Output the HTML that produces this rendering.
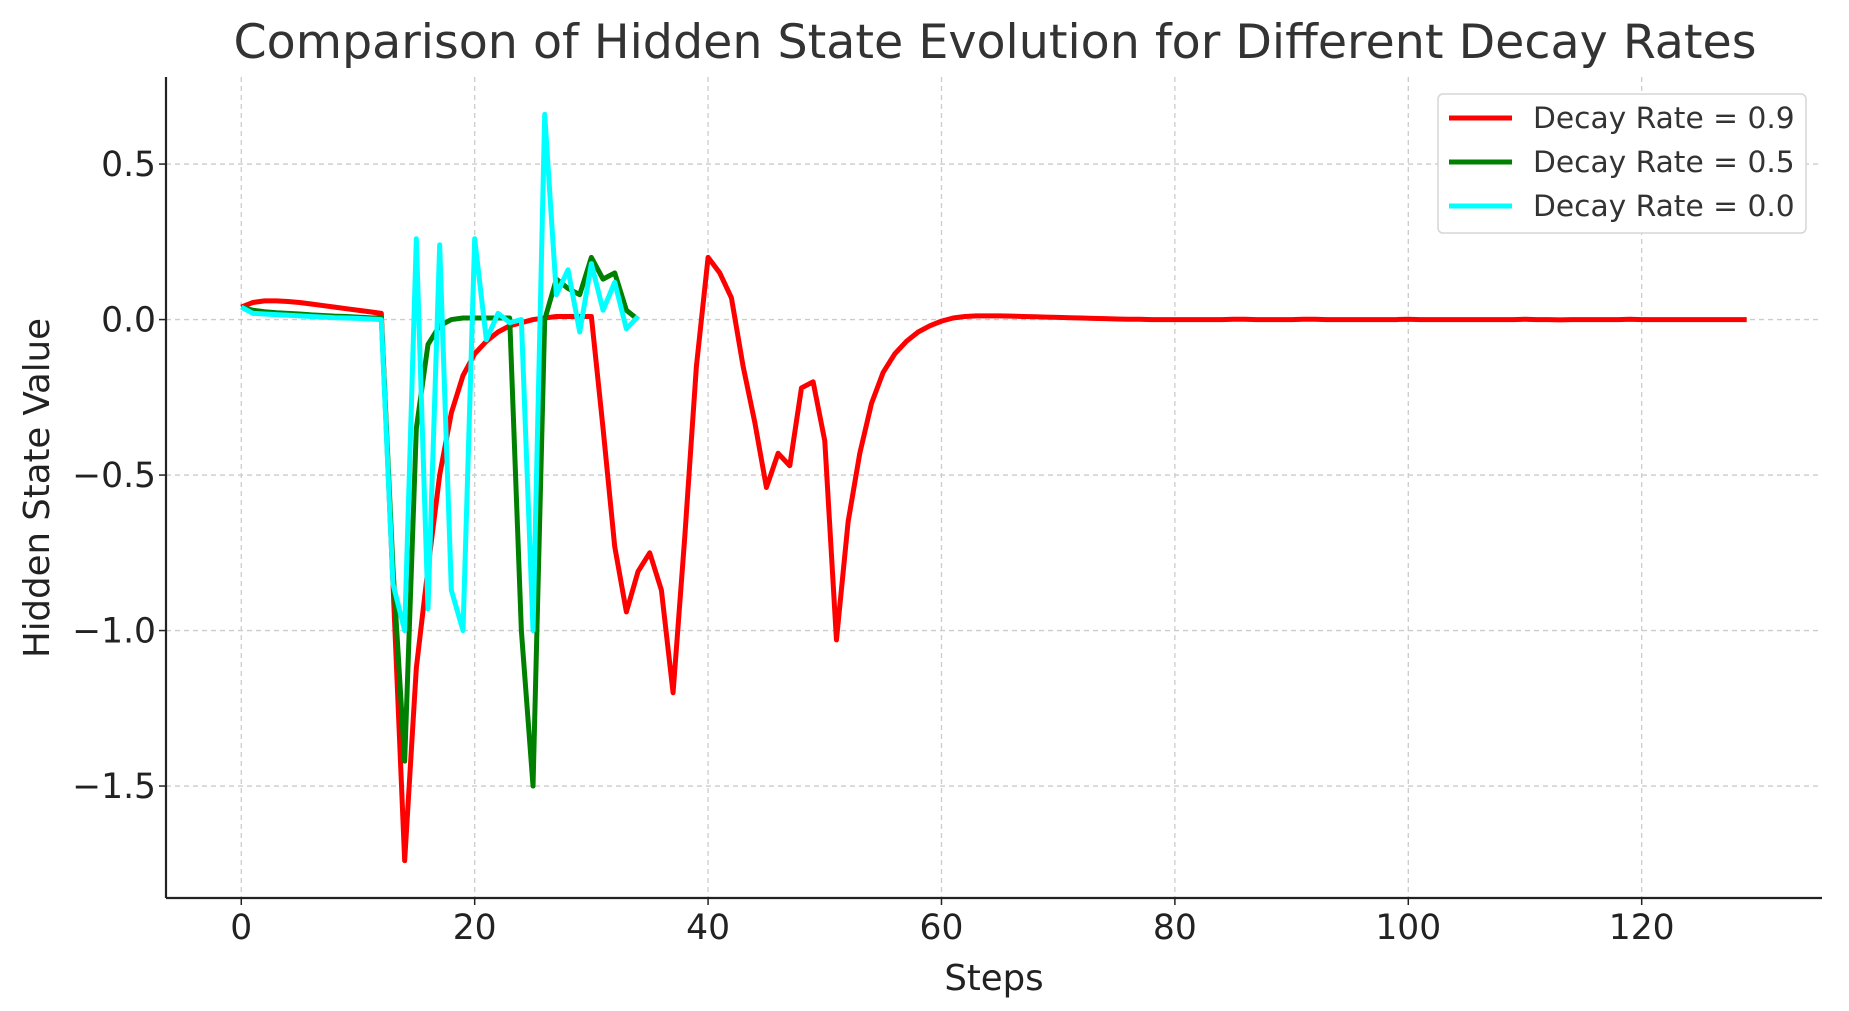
<!DOCTYPE html>
<html><head><meta charset="utf-8"><style>
html,body{margin:0;padding:0;background:#fff;}
svg{display:block;font-family:"DejaVu Sans","Liberation Sans",sans-serif;}
</style></head><body>
<svg id="chart" width="1849" height="1011"></svg>
<script>
const steps = Array.from({length:130},(_,i)=>i);
const decay09 = [0.04,0.055,0.06,0.06,0.058,0.055,0.05,0.045,0.04,0.035,0.03,0.025,0.02,-0.85,-1.74,-1.12,-0.8,-0.5,-0.3,-0.18,-0.11,-0.07,-0.04,-0.02,-0.01,0,0.005,0.01,0.01,0.01,0.01,-0.35,-0.73,-0.94,-0.81,-0.75,-0.87,-1.2,-0.7,-0.15,0.2,0.15,0.07,-0.15,-0.33,-0.54,-0.43,-0.47,-0.22,-0.2,-0.39,-1.03,-0.65,-0.43,-0.27,-0.17,-0.11,-0.07,-0.04,-0.02,-0.005,0.005,0.01,0.012,0.012,0.012,0.011,0.01,0.009,0.008,0.007,0.006,0.005,0.004,0.003,0.002,0.001,0.001,0,0,0,0,0,0,0,0.001,0.001,0,0,0,0,0.001,0.001,0,0,0,0,0,0,0,0.001,0,0,0,0,0,0,0,0,0,0.001,0,0,-0.001,0,0,0,0,0,0.001,0,0,0,0,0,0,0,0,0,0,0,0];
const decay05 = [0.04,0.03,0.025,0.022,0.02,0.018,0.015,0.013,0.011,0.01,0.008,0.006,0.005,-0.8,-1.42,-0.35,-0.08,-0.02,0,0.005,0.005,0.005,0.005,0.005,-1.0,-1.5,0.0,0.13,0.1,0.08,0.2,0.13,0.15,0.03,0.0];
const decay00 = [0.04,0.02,0.018,0.016,0.014,0.012,0.01,0.008,0.006,0.005,0.004,0.002,0.0,-0.85,-1.0,0.26,-0.93,0.24,-0.87,-1.0,0.26,-0.065,0.02,-0.01,0.0,-1.0,0.66,0.08,0.16,-0.04,0.18,0.03,0.12,-0.03,0.01];
const xTicks = [0,20,40,60,80,100,120];
const yTicks = [0.5,0.0,-0.5,-1.0,-1.5];
const yTickLabels = ["0.5","0.0","\u22120.5","\u22121.0","\u22121.5"];
const seriesNames = ["Decay Rate = 0.9","Decay Rate = 0.5","Decay Rate = 0.0"];

const NS="http://www.w3.org/2000/svg";
const svg=document.getElementById('chart');
const L=166,R=1822,T=77,B=898;
const xMin=-6.45,xMax=135.45,yMin=-1.86,yMax=0.78;
const X=v=>L+(v-xMin)/(xMax-xMin)*(R-L);
const Y=v=>B-(v-yMin)/(yMax-yMin)*(B-T);
function mk(tag,attrs,parent){const e=document.createElementNS(NS,tag);for(const k in attrs)e.setAttribute(k,attrs[k]);(parent||svg).appendChild(e);return e;}

const grid=mk('g',{});


xTicks.forEach(t=>{const l=mk('line',{x1:X(t),x2:X(t),y1:T,y2:B,stroke:'#cccccc','stroke-width':1.3,'stroke-dasharray':'5,4'},grid);

});
yTicks.forEach(t=>{const l=mk('line',{x1:L,x2:R,y1:Y(t),y2:Y(t),stroke:'#cccccc','stroke-width':1.3,'stroke-dasharray':'5,4'},grid);

});

const colors=['#ff0000','#008000','#00ffff'];
[decay09,decay05,decay00].forEach((s,i)=>{
 const d=s.map((v,j)=>(j?'L':'M')+X(steps[j]).toFixed(2)+','+Y(v).toFixed(2)).join('');
 const p=mk('path',{d:d,fill:'none',stroke:colors[i],'stroke-width':5,'stroke-linejoin':'round'});
 
 
});

const ax=mk('g',{});


mk('line',{x1:L,x2:L,y1:T,y2:B,stroke:'#222','stroke-width':2.2},ax);
mk('line',{x1:L,x2:R,y1:B,y2:B,stroke:'#222','stroke-width':2.2},ax);
xTicks.forEach(t=>{
 mk('line',{x1:X(t),x2:X(t),y1:B,y2:B+7,stroke:'#222','stroke-width':1.5},ax);
 const tx=mk('text',{x:X(t),y:939,'font-size':34.5,'text-anchor':'middle',fill:'#222'},ax);
 tx.textContent=t;
 
 
});
yTicks.forEach((t,i)=>{
 mk('line',{x1:L-7,x2:L,y1:Y(t),y2:Y(t),stroke:'#222','stroke-width':1.5},ax);
 const tx=mk('text',{x:156,y:Y(t)+12,'font-size':34.5,'text-anchor':'end',fill:'#222'},ax);
 tx.textContent=yTickLabels[i];
 
 
});

const title=mk('text',{x:995,y:58,'font-size':47.5,'text-anchor':'middle',fill:'#333'});
title.textContent='Comparison of Hidden State Evolution for Different Decay Rates';


const xl=mk('text',{x:994,y:990,'font-size':35.5,'text-anchor':'middle',fill:'#222'});
xl.textContent='Steps';


const yl=mk('text',{x:0,y:0,'font-size':35.5,'text-anchor':'middle',fill:'#222',transform:'translate(49,488) rotate(-90)'});
yl.textContent='Hidden State Value';



const lg=mk('g',{});


mk('rect',{x:1438,y:94,width:368,height:139,rx:5,fill:'#fff',stroke:'#d6d6d6','stroke-width':1.5},lg);
seriesNames.forEach((n,i)=>{
 const y=118+i*44;
 mk('line',{x1:1449,x2:1512,y1:y,y2:y,stroke:colors[i],'stroke-width':5},lg);
 const tx=mk('text',{x:1533,y:y+10,'font-size':29.7,fill:'#333'},lg);
 tx.textContent=n;
 
 
});
</script>
</body></html>
